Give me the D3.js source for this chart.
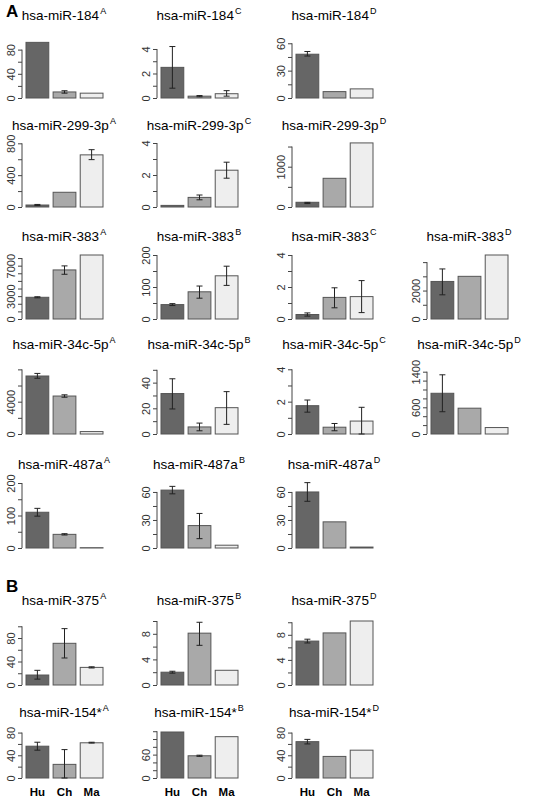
<!DOCTYPE html>
<html><head><meta charset="utf-8">
<script src="https://cdn.jsdelivr.net/npm/d3@7"></script>
<style>body{margin:0;background:#fff}</style>
</head><body>
<svg id="c" width="544" height="800"></svg>
<script>
const groups = ['Hu', 'Ch', 'Ma'];
const titles = ['hsa-miR-184','hsa-miR-184','hsa-miR-184',
  'hsa-miR-299-3p','hsa-miR-299-3p','hsa-miR-299-3p',
  'hsa-miR-383','hsa-miR-383','hsa-miR-383','hsa-miR-383',
  'hsa-miR-34c-5p','hsa-miR-34c-5p','hsa-miR-34c-5p','hsa-miR-34c-5p',
  'hsa-miR-487a','hsa-miR-487a','hsa-miR-487a',
  'hsa-miR-375','hsa-miR-375','hsa-miR-375',
  'hsa-miR-154*','hsa-miR-154*','hsa-miR-154*'];
const sups = ['A','C','D','A','C','D','A','B','C','D','A','B','C','D','A','B','D','A','B','D','A','B','D'];
const rowOf = [0,0,0,1,1,1,2,2,2,2,3,3,3,3,4,4,4,5,5,5,6,6,6];
const colOf = [0,1,2,0,1,2,0,1,2,3,0,1,2,3,0,1,2,0,1,2,0,1,2];
const values = [[92,10,8],[2.5,0.15,0.35],[48,7,10],
  [25,185,655],[0.1,0.6,2.3],[117,712,1590],
  [2850,6440,8400],[45,85,135],[0.28,1.35,1.4],[2640,3000,4500],
  [7180,4700,300],[31.5,5.5,20.5],[1.75,0.42,0.8],[915,580,145],
  [110,42,1],[62,24,3],[60,28,1],
  [17,71,30],[2,8.1,2.3],[7,8.3,10.2],
  [56,24,62],[118,57,106],[64,38,49]];
const errLo = [[null,8,null],[0.8,0.1,0.15],[46,null,null],
  [18,null,595],[null,0.45,1.8],[85,null,null],
  [2780,5870,null],[42,65,105],[0.18,0.7,0.4],[1700,null,null],
  [6900,4550,null],[19.5,2.5,7.5],[1.35,0.2,0],[500,null,null],
  [98,40,null],[58,10,null],[50,null,null],
  [10,46,29],[1.85,6.2,null],[6.7,null,null],
  [49,0,61.5],[null,55.5,null],[60,null,null]];
const errHi = [[null,12,null],[4.2,0.2,0.6],[51,null,null],
  [32,null,720],[null,0.75,2.8],[115,null,null],
  [2920,6970,null],[48,103,165],[0.38,1.95,2.4],[3520,null,null],
  [7500,4850,null],[43,8.5,33],[2.1,0.65,1.65],[1330,null,null],
  [122,44,null],[66,37,null],[70,null,null],
  [25,96,31],[2.15,9.8,null],[7.3,null,null],
  [63,50,63],[null,58.5,null],[68,null,null]];
const yMax = [92.6,4.57,61.4, 804,4,1588, 8400,200,4,4500, 8170,51.4,4.08,1483, 200,69.6,69.6, 109,10,10.2, 81,118,81];
const tickStep = [20,1,15, 200,1,500, 1000,50,1,1000, 2000,10,1,200, 50,15,15, 20,2,2, 20,20,20];
const tickTop = [80,4,60, 800,4,1500, 8000,200,4,4000, 8000,50,4,1400, 200,60,60, 100,10,10, 80,120,80];
const tickLabels = [[0,40,80],[0,2,4],[0,30,60],
  [0,400,800],[0,2,4],[0,1000],
  [0,3000,7000],[0,100,200],[0,2,4],[0,2000],
  [0,4000],[0,20,40],[0,2,4],[0,600,1400],
  [0,100,200],[0,30,60],[0,30,60],
  [0,40,80],[0,4,8],[0,4,8],
  [0,40,80],[0,60],[0,40,80]];

const rowBottom = [98,207,319,434,548,685,778];
const rowH = [56,64,64,66,65,64,46];
const rowTitle = [20,130,241,349,469,605,717];
const fills = ['#666666','#a9a9a9','#eeeeee'];

const svg = d3.select('#c');
svg.append('text').attr('x',6).attr('y',17).text('A')
  .attr('font-family','Arial, Liberation Sans').attr('font-weight','bold').attr('font-size',17);
svg.append('text').attr('x',6).attr('y',592).text('B')
  .attr('font-family','Arial, Liberation Sans').attr('font-weight','bold').attr('font-size',17);

titles.forEach((t, i) => {
  const r = rowOf[i], axisX = 22 + 135 * colOf[i];
  const bottom = rowBottom[r];
  const x = d3.scaleBand().domain(groups).range([axisX + 4, axisX + 81]).paddingInner(0.16);
  const y = d3.scaleLinear().domain([0, yMax[i]]).range([bottom, bottom - rowH[r]]);
  const g = svg.append('g');

  const txt = g.append('text').attr('x', axisX + 42).attr('y', rowTitle[r])
    .attr('text-anchor','middle').attr('font-family','Arial, Liberation Sans').attr('font-size',13.5);
  txt.append('tspan').text(t);
  txt.append('tspan').text(sups[i]).attr('font-size',9).attr('dy',-6).attr('dx',1);

  g.selectAll('rect').data(groups).join('rect')
    .attr('x', d => x(d)).attr('width', x.bandwidth())
    .attr('y', (d, k) => y(values[i][k])).attr('height', (d, k) => bottom - y(values[i][k]))
    .attr('fill', (d, k) => fills[k]).attr('stroke', '#555').attr('stroke-width', 1);

  groups.forEach((d, k) => {
    if (errLo[i][k] == null) return;
    const cx = x(d) + x.bandwidth() / 2;
    const p = d3.path();
    p.moveTo(cx, y(errLo[i][k])); p.lineTo(cx, y(errHi[i][k]));
    p.moveTo(cx - 3, y(errLo[i][k])); p.lineTo(cx + 3, y(errLo[i][k]));
    p.moveTo(cx - 3, y(errHi[i][k])); p.lineTo(cx + 3, y(errHi[i][k]));
    g.append('path').attr('d', p.toString()).attr('stroke', '#222').attr('fill', 'none');
  });

  const ticks = d3.range(0, tickTop[i] + tickStep[i] / 2, tickStep[i]);
  const ax = g.append('g').attr('transform', `translate(${axisX},0)`)
    .call(d3.axisLeft(y).tickValues(ticks).tickSize(4)
      .tickFormat(v => tickLabels[i].includes(v) ? d3.format('d')(v) : ''));
  ax.select('.domain').attr('d', `M0,${y(0)}V${y(tickTop[i])}`).attr('stroke', '#444');
  ax.selectAll('.tick line').attr('stroke', '#444');
  ax.selectAll('.tick text').attr('transform', 'rotate(-90)').attr('x', 0).attr('y', -7)
    .attr('dy', 0).attr('text-anchor', 'middle').attr('font-size', 11)
    .attr('font-family', 'Arial, Liberation Sans').attr('fill', '#333');

  if (r === 6) {
    g.selectAll('.xl').data(groups).join('text')
      .attr('x', d => x(d) + x.bandwidth() / 2).attr('y', 796).text(d => d)
      .attr('text-anchor','middle').attr('font-family','Arial, Liberation Sans')
      .attr('font-weight','bold').attr('font-size',11.5);
  }
});
</script>
</body></html>
